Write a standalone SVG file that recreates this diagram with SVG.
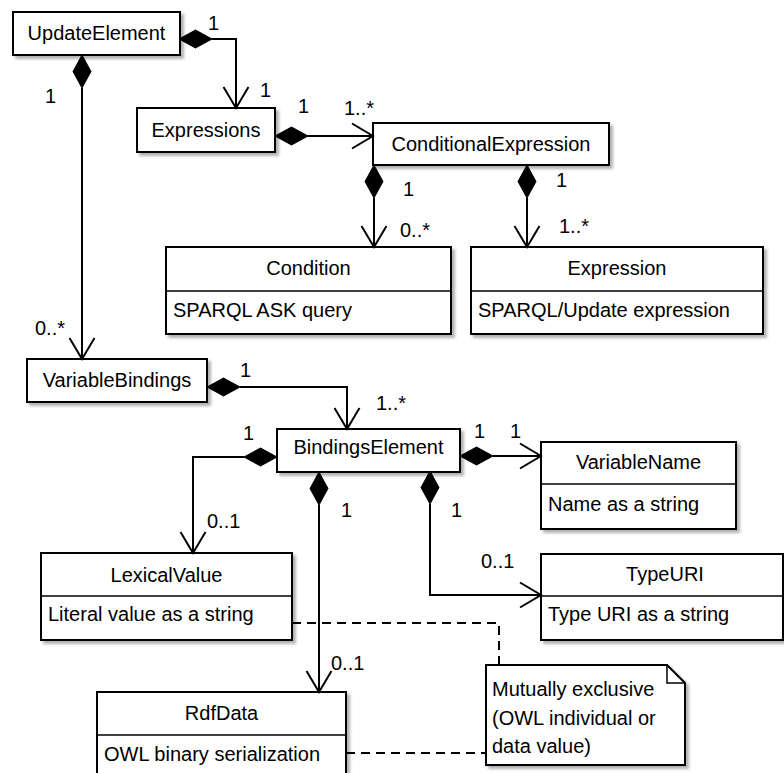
<svg xmlns="http://www.w3.org/2000/svg" width="784" height="773" viewBox="0 0 784 773">
  <style>
    .box { fill: #fff; stroke: #000; stroke-width: 2; filter: url(#shadow); }
    .div { stroke: #000; stroke-width: 1.5; fill: none; }
    .t { font-family: "Liberation Sans", Arial, sans-serif; font-size: 20px; fill: #000; }
    .c { text-anchor: middle; }
    .edge { fill: none; stroke: #000; stroke-width: 2; }
    .dash { fill: none; stroke: #000; stroke-width: 2; stroke-dasharray: 9 6; }
    .dia { fill: #000; stroke: #000; stroke-width: 1; }
    .arr { fill: none; stroke: #000; stroke-width: 2; }
  </style>
  <defs>
    <filter id="shadow" x="-5%" y="-5%" width="115%" height="125%">
      <feDropShadow dx="3" dy="3" stdDeviation="1.5" flood-color="#000" flood-opacity="0.3"/>
    </filter>
  </defs>

  <!-- classes -->
  <g id="UpdateElement">
    <rect class="box" x="13" y="12" width="167" height="43"/>
    <text class="t c" x="96.5" y="40">UpdateElement</text>
  </g>
  <g id="Expressions">
    <rect class="box" x="137" y="108" width="138" height="44"/>
    <text class="t c" x="206" y="137">Expressions</text>
  </g>
  <g id="ConditionalExpression">
    <rect class="box" x="373" y="123" width="236" height="42"/>
    <text class="t c" x="491" y="151">ConditionalExpression</text>
  </g>
  <g id="Condition">
    <rect class="box" x="166" y="247" width="285" height="87"/>
    <line class="div" x1="166" y1="291" x2="451" y2="291"/>
    <text class="t c" x="308.5" y="275">Condition</text>
    <text class="t" x="173" y="317">SPARQL ASK query</text>
  </g>
  <g id="Expression">
    <rect class="box" x="471" y="247" width="292" height="87"/>
    <line class="div" x1="471" y1="291" x2="763" y2="291"/>
    <text class="t c" x="617" y="275">Expression</text>
    <text class="t" x="478" y="317">SPARQL/Update expression</text>
  </g>
  <g id="VariableBindings">
    <rect class="box" x="27" y="359" width="180" height="43"/>
    <text class="t c" x="117" y="387">VariableBindings</text>
  </g>
  <g id="BindingsElement">
    <rect class="box" x="277" y="429" width="183" height="43"/>
    <text class="t c" x="368.5" y="454">BindingsElement</text>
  </g>
  <g id="VariableName">
    <rect class="box" x="541" y="442" width="195" height="87"/>
    <line class="div" x1="541" y1="484" x2="736" y2="484"/>
    <text class="t c" x="638.5" y="469">VariableName</text>
    <text class="t" x="548" y="511">Name as a string</text>
  </g>
  <g id="LexicalValue">
    <rect class="box" x="41" y="553" width="251" height="87"/>
    <line class="div" x1="41" y1="596" x2="292" y2="596"/>
    <text class="t c" x="166.5" y="582">LexicalValue</text>
    <text class="t" x="48" y="621">Literal value as a string</text>
  </g>
  <g id="TypeURI">
    <rect class="box" x="541" y="554" width="242" height="86"/>
    <line class="div" x1="541" y1="596" x2="783" y2="596"/>
    <text class="t c" x="665" y="581">TypeURI</text>
    <text class="t" x="548" y="621">Type URI as a string</text>
  </g>
  <g id="RdfData">
    <rect class="box" x="97" y="692" width="249" height="90"/>
    <line class="div" x1="97" y1="735" x2="346" y2="735"/>
    <text class="t c" x="221.5" y="720">RdfData</text>
    <text class="t" x="104" y="761">OWL binary serialization</text>
  </g>
  <g id="Note">
    <path class="box" d="M486,665 H667 L685,683 V765 H486 Z"/>
    <path class="div" d="M667,665 V683 H685"/>
    <text class="t" x="492" y="696">Mutually exclusive</text>
    <text class="t" x="492" y="725">(OWL individual or</text>
    <text class="t" x="492" y="753">data value)</text>
  </g>

  <!-- associations -->
  <g id="connectors">
    <!-- UpdateElement -> Expressions -->
    <polyline class="edge" points="212,39 236,39 236,108"/>
    <polygon class="dia" points="179,39 195.5,30 212,39 195.5,48"/>
    <polyline class="arr" points="223.5,87 236,108 248.5,87"/>
    <text class="t" x="208" y="30">1</text>
    <text class="t" x="260" y="97">1</text>

    <!-- Expressions -> ConditionalExpression -->
    <line class="edge" x1="308" y1="136" x2="373" y2="136"/>
    <polygon class="dia" points="275,136 291.5,127 308,136 291.5,145"/>
    <polyline class="arr" points="352,123.5 373,136 352,148.5"/>
    <text class="t" x="298" y="113">1</text>
    <text class="t" x="344" y="115">1..*</text>

    <!-- ConditionalExpression -> Condition -->
    <line class="edge" x1="374" y1="198" x2="374" y2="247"/>
    <polygon class="dia" points="374,165 383,181.5 374,198 365,181.5"/>
    <polyline class="arr" points="361.5,226 374,247 386.5,226"/>
    <text class="t" x="403" y="196">1</text>
    <text class="t" x="400" y="237">0..*</text>

    <!-- ConditionalExpression -> Expression -->
    <line class="edge" x1="527" y1="198" x2="527" y2="247"/>
    <polygon class="dia" points="527,165 536,181.5 527,198 518,181.5"/>
    <polyline class="arr" points="514.5,226 527,247 539.5,226"/>
    <text class="t" x="556" y="187">1</text>
    <text class="t" x="559" y="233">1..*</text>

    <!-- UpdateElement -> VariableBindings -->
    <line class="edge" x1="82" y1="88" x2="82" y2="359"/>
    <polygon class="dia" points="82,55 91,71.5 82,88 73,71.5"/>
    <polyline class="arr" points="69.5,338 82,359 94.5,338"/>
    <text class="t" x="45" y="103">1</text>
    <text class="t" x="35" y="335">0..*</text>

    <!-- VariableBindings -> BindingsElement -->
    <polyline class="edge" points="240,387 347,387 347,429"/>
    <polygon class="dia" points="207,387 223.5,378 240,387 223.5,396"/>
    <polyline class="arr" points="334.5,408 347,429 359.5,408"/>
    <text class="t" x="240" y="377">1</text>
    <text class="t" x="376" y="410">1..*</text>

    <!-- BindingsElement -> LexicalValue -->
    <polyline class="edge" points="244,457 193,457 193,553"/>
    <polygon class="dia" points="277,457 260.5,448 244,457 260.5,466"/>
    <polyline class="arr" points="180.5,532 193,553 205.5,532"/>
    <text class="t" x="243" y="440">1</text>
    <text class="t" x="207" y="528">0..1</text>

    <!-- BindingsElement -> RdfData -->
    <line class="edge" x1="319" y1="505" x2="319" y2="692"/>
    <polygon class="dia" points="319,472 328,488.5 319,505 310,488.5"/>
    <polyline class="arr" points="306.5,671 319,692 331.5,671"/>
    <text class="t" x="341" y="517">1</text>
    <text class="t" x="331" y="670">0..1</text>

    <!-- BindingsElement -> VariableName -->
    <line class="edge" x1="493" y1="456" x2="541" y2="456"/>
    <polygon class="dia" points="460,456 476.5,447 493,456 476.5,465"/>
    <polyline class="arr" points="520,443.5 541,456 520,468.5"/>
    <text class="t" x="474" y="438">1</text>
    <text class="t" x="510" y="438">1</text>

    <!-- BindingsElement -> TypeURI -->
    <polyline class="edge" points="430,504 430,595 541,595"/>
    <polygon class="dia" points="430,471 439,487.5 430,504 421,487.5"/>
    <polyline class="arr" points="520,582.5 541,595 520,607.5"/>
    <text class="t" x="451" y="517">1</text>
    <text class="t" x="481" y="568">0..1</text>

    <!-- note anchors -->
    <polyline class="dash" points="292,623 499,623 499,665"/>
    <line class="dash" x1="346" y1="753" x2="486" y2="753"/>
  </g>
</svg>
